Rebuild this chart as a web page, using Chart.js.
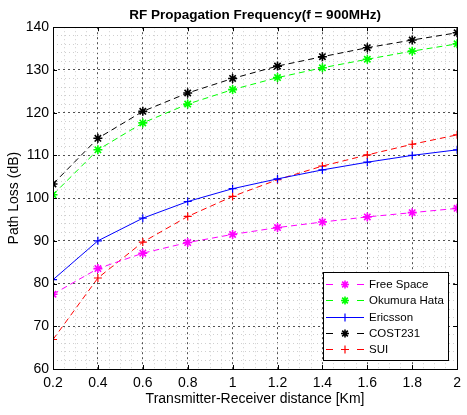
<!DOCTYPE html>
<html>
<head>
<meta charset="utf-8">
<script src="https://cdn.jsdelivr.net/npm/chart.js@4/dist/chart.umd.min.js"></script>
<style>
html, body { margin: 0; padding: 0; background: #fff; }
</style>
</head>
<body>
<canvas id="myChart" width="467" height="415"></canvas>
<script>
// distance in Km
const distance = [0.2, 0.4, 0.6, 0.8, 1.0, 1.2, 1.4, 1.6, 1.8, 2.0];

// path loss in dB
const freeSpace = [77.5, 83.5, 87.1, 89.6, 91.5, 93.1, 94.4, 95.6, 96.6, 97.6];
const okumuraHata = [100.8, 111.3, 117.6, 122.0, 125.4, 128.2, 130.5, 132.5, 134.4, 136.1];
const ericsson = [80.9, 90.0, 95.3, 99.2, 102.2, 104.5, 106.6, 108.4, 110.0, 111.3];
const cost231 = [103.3, 114.0, 120.3, 124.6, 128.0, 130.9, 133.1, 135.2, 137.0, 138.7];
const sui = [66.9, 81.3, 89.7, 95.7, 100.4, 104.3, 107.5, 110.1, 112.6, 114.8];

const seriesNames = ['Free Space', 'Okumura Hata', 'Ericsson', 'COST231', 'SUI'];

const FONT = 'Liberation Sans, Arial, Helvetica, sans-serif';

function pts(vals) {
    return distance.map((d, i) => ({ x: d, y: vals[i] }));
}

function series(label, vals, color, marker, dashed) {
    return {
        label: label,
        data: pts(vals),
        borderColor: color,
        backgroundColor: color,
        borderWidth: 1,
        borderDash: dashed ? [6, 4] : [],
        pointStyle: marker,
        pointRadius: marker === 'star' ? 4.5 : 4,
        pointBorderWidth: marker === 'star' ? 1.6 : 1.2,
        pointBorderColor: color,
        pointHoverRadius: 4,
        fill: false,
        tension: 0
    };
}

// multiple check for hiding minor grid under major lines
function onStep(v, step) {
    const q = v / step;
    return Math.abs(q - Math.round(q)) < 1e-6;
}

// box round the plot + inward ticks like matlab
const boxPlugin = {
    id: 'box',
    afterDatasetsDraw(chart) {
        const { ctx, chartArea: a, scales } = chart;
        ctx.save();
        ctx.strokeStyle = '#000';
        ctx.lineWidth = 1;
        ctx.setLineDash([]);
        ctx.beginPath();
        scales.x.ticks.forEach(t => {
            const px = Math.round(scales.x.getPixelForValue(t.value)) + 0.5;
            ctx.moveTo(px, a.bottom); ctx.lineTo(px, a.bottom - 4);
            ctx.moveTo(px, a.top); ctx.lineTo(px, a.top + 4);
        });
        scales.y.ticks.forEach(t => {
            const py = Math.round(scales.y.getPixelForValue(t.value)) + 0.5;
            ctx.moveTo(a.left, py); ctx.lineTo(a.left + 4, py);
            ctx.moveTo(a.right, py); ctx.lineTo(a.right - 4, py);
        });
        ctx.stroke();
        ctx.strokeRect(Math.round(a.left) + 0.5, Math.round(a.top) + 0.5,
            Math.round(a.right - a.left), Math.round(a.bottom - a.top));
        ctx.restore();
    }
};

function drawMarker(ctx, style, x, y, r) {
    ctx.beginPath();
    ctx.moveTo(x - r, y); ctx.lineTo(x + r, y);
    ctx.moveTo(x, y - r); ctx.lineTo(x, y + r);
    if (style === 'star') {
        const d = r * Math.SQRT1_2;
        ctx.moveTo(x - d, y - d); ctx.lineTo(x + d, y + d);
        ctx.moveTo(x - d, y + d); ctx.lineTo(x + d, y - d);
    }
    ctx.stroke();
}

// legend box in the lower right corner of the plot
const legendPlugin = {
    id: 'boxLegend',
    afterDraw(chart) {
        const { ctx, chartArea: a } = chart;
        const w = 125, h = 88;
        const left = Math.round(a.right - 9 - w), top = Math.round(a.bottom - 9 - h);
        ctx.save();
        ctx.fillStyle = '#fff';
        ctx.fillRect(left, top, w, h);
        ctx.strokeStyle = '#000';
        ctx.lineWidth = 1;
        ctx.setLineDash([]);
        ctx.strokeRect(left + 0.5, top + 0.5, w, h);
        ctx.font = '11.5px ' + FONT;
        ctx.textBaseline = 'middle';
        ctx.textAlign = 'left';
        chart.data.datasets.forEach((ds, i) => {
            const cy = Math.round(top + 12 + i * 16.3) + 0.5;
            const x0 = left + 3, x1 = left + 41, mx = (x0 + x1) / 2;
            ctx.strokeStyle = ds.borderColor;
            ctx.lineWidth = 1;
            ctx.beginPath();
            if (ds.borderDash.length) {
                ctx.moveTo(x0, cy); ctx.lineTo(x0 + 7, cy);
                ctx.moveTo(x1 - 7, cy); ctx.lineTo(x1, cy);
            } else {
                ctx.moveTo(x0, cy); ctx.lineTo(x1, cy);
            }
            ctx.stroke();
            ctx.lineWidth = ds.pointBorderWidth;
            drawMarker(ctx, ds.pointStyle, mx, cy, 4);
            ctx.fillStyle = '#000';
            ctx.fillText(ds.label, left + 46, cy);
        });
        ctx.restore();
    }
};

const ctx = document.getElementById('myChart').getContext('2d');

const data = {
    datasets: [
        series(seriesNames[0], freeSpace, '#ff00ff', 'star', true),
        series(seriesNames[1], okumuraHata, '#00ff00', 'star', true),
        series(seriesNames[2], ericsson, '#0000ff', 'cross', false),
        series(seriesNames[3], cost231, '#000000', 'star', true),
        series(seriesNames[4], sui, '#ff0000', 'cross', true)
    ]
};

const config = {
    type: 'line',
    data: data,
    options: {
        responsive: false,
        animation: false,
        layout: { padding: { left: 0, right: 5, top: 0, bottom: 0 } },
        plugins: {
            legend: { display: false },
            tooltip: { enabled: false },
            title: {
                display: true,
                fullSize: false,
                text: 'RF Propagation Frequency(f = 900MHz)',
                color: '#000',
                font: { family: FONT, size: 13.5, weight: 'bold' },
                padding: { top: 7, bottom: 4 }
            }
        },
        scales: {
            x: {
                type: 'linear',
                min: 0.2,
                max: 2,
                afterFit: s => { s.height = 46; },
                ticks: {
                    stepSize: 0.2,
                    color: '#000',
                    padding: 6,
                    maxRotation: 0,
                    font: { family: FONT, size: 14 },
                    callback: v => String(+v.toFixed(1))
                },
                grid: { color: '#505050', lineWidth: 1, drawTicks: false },
                border: { display: false, dash: [2, 3] },
                title: {
                    display: true,
                    text: 'Transmitter-Receiver distance [Km]',
                    color: '#000',
                    font: { family: FONT, size: 14 },
                    padding: { top: 0, bottom: 7 }
                }
            },
            xMinor: {
                type: 'linear',
                axis: 'x',
                position: 'bottom',
                min: 0.2,
                max: 2,
                afterFit: s => { s.height = 0; },
                ticks: { display: false, stepSize: 0.05 },
                grid: {
                    drawTicks: false,
                    color: c => onStep(c.tick.value, 0.2) ? 'rgba(0,0,0,0)' : '#cfcfcf'
                },
                border: { display: false, dash: [1, 3] }
            },
            y: {
                min: 60,
                max: 140,
                afterFit: s => { s.width = 53; },
                ticks: {
                    stepSize: 10,
                    color: '#000',
                    padding: 4,
                    font: { family: FONT, size: 14 }
                },
                grid: { color: '#505050', lineWidth: 1, drawTicks: false },
                border: { display: false, dash: [2, 3] },
                title: {
                    display: true,
                    text: 'Path Loss (dB)',
                    color: '#000',
                    font: { family: FONT, size: 14 },
                    padding: { top: 6, bottom: 0 }
                }
            },
            yMinor: {
                type: 'linear',
                axis: 'y',
                position: 'left',
                min: 60,
                max: 140,
                afterFit: s => { s.width = 0; },
                ticks: { display: false, stepSize: 2 },
                grid: {
                    drawTicks: false,
                    color: c => onStep(c.tick.value, 10) ? 'rgba(0,0,0,0)' : '#cfcfcf'
                },
                border: { display: false, dash: [1, 3] }
            }
        }
    },
    plugins: [boxPlugin, legendPlugin]
};

const myChart = new Chart(ctx, config);
</script>
</body>
</html>
